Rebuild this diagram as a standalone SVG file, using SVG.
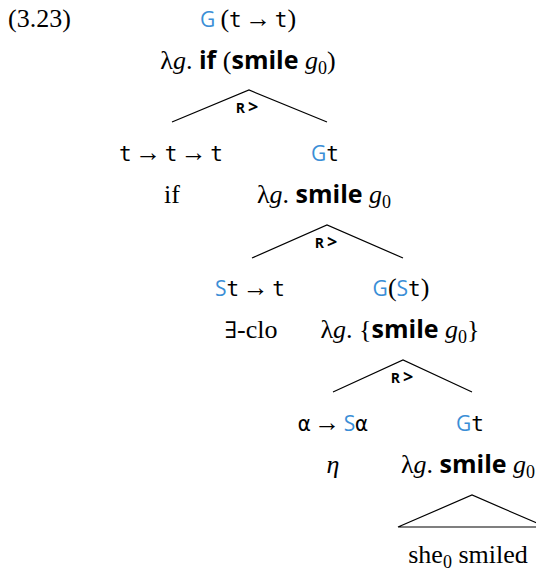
<svg xmlns="http://www.w3.org/2000/svg" width="536" height="571" viewBox="0 0 536 571">
<style>
text{font-family:"Liberation Serif",serif;font-size:26px;fill:#000;text-anchor:middle}
.it{font-style:italic}
.sb{font-family:"Open Sans",sans-serif;font-weight:700;font-size:25px}
.mo{font-family:"DejaVu Sans Mono",monospace;font-size:21px}
.bl{font-family:"Open Sans",sans-serif;font-size:21px;fill:#3a8ed6}
.sub{font-size:18px}
.ex{font-family:"DejaVu Serif",serif;font-size:23px}
.lab{font-family:"Open Sans",sans-serif;font-weight:700;font-size:14px}
.gt{font-size:18px}
.ln{fill:none;stroke:#000;stroke-width:1.2}
</style>
<text x="8" y="27" style="text-anchor:start">(3.23)</text>
<g id="connectors">
<polyline class="ln" points="172,122 249,90 327,122"/>
<text class="lab" x="247" y="113">R<tspan class="gt">&#8201;&gt;</tspan></text>
<polyline class="ln" points="252,258 327,225 403,258"/>
<text class="lab" x="326" y="248">R<tspan class="gt">&#8201;&gt;</tspan></text>
<polyline class="ln" points="333,392 403,360 472,392"/>
<text class="lab" x="402" y="383">R<tspan class="gt">&#8201;&gt;</tspan></text>
<polygon class="ln" points="398,527 472,495 546,527"/>
</g>
<g id="root">
<text x="248" y="27"><tspan class="bl">G</tspan><tspan>&#8201;(</tspan><tspan class="mo">t</tspan><tspan dx="3.5">→</tspan><tspan class="mo" dx="3.5">t</tspan><tspan>)</tspan></text>
<text x="248" y="69"><tspan>λ</tspan><tspan class="it">g</tspan><tspan>. </tspan><tspan class="sb">if</tspan><tspan> (</tspan><tspan class="sb">smile</tspan><tspan> </tspan><tspan class="it">g</tspan><tspan class="sub" dy="5">0</tspan><tspan dy="-5">)</tspan></text>
</g>
<g id="if">
<text x="171" y="161"><tspan class="mo">t</tspan><tspan dx="3.5">→</tspan><tspan class="mo" dx="3.5">t</tspan><tspan dx="3.5">→</tspan><tspan class="mo" dx="3.5">t</tspan></text>
<text x="172" y="203">if</text>
</g>
<g id="G-smile">
<text x="325" y="161"><tspan class="bl">G</tspan><tspan class="mo">t</tspan></text>
<text x="324" y="203"><tspan>λ</tspan><tspan class="it">g</tspan><tspan>. </tspan><tspan class="sb">smile</tspan><tspan> </tspan><tspan class="it">g</tspan><tspan class="sub" dy="5">0</tspan></text>
</g>
<g id="exists-clo">
<text x="250" y="296"><tspan class="bl">S</tspan><tspan class="mo">t</tspan><tspan dx="3.5">→</tspan><tspan class="mo" dx="3.5">t</tspan></text>
<text x="251" y="338"><tspan class="ex">∃</tspan><tspan>-clo</tspan></text>
</g>
<g id="G-S-smile">
<text x="401" y="296"><tspan class="bl">G</tspan><tspan>(</tspan><tspan class="bl">S</tspan><tspan class="mo">t</tspan><tspan>)</tspan></text>
<text x="400" y="338"><tspan>λ</tspan><tspan class="it">g</tspan><tspan>. {</tspan><tspan class="sb">smile</tspan><tspan> </tspan><tspan class="it">g</tspan><tspan class="sub" dy="5">0</tspan><tspan dy="-5">}</tspan></text>
</g>
<g id="eta">
<text x="333" y="431"><tspan class="mo">α</tspan><tspan dx="3.5">→</tspan><tspan class="bl" dx="3.5">S</tspan><tspan class="mo">α</tspan></text>
<text x="333" y="473" class="it">η</text>
</g>
<g id="G-smile-2">
<text x="470" y="431"><tspan class="bl">G</tspan><tspan class="mo">t</tspan></text>
<text x="468" y="473"><tspan>λ</tspan><tspan class="it">g</tspan><tspan>. </tspan><tspan class="sb">smile</tspan><tspan> </tspan><tspan class="it">g</tspan><tspan class="sub" dy="5">0</tspan></text>
</g>
<g id="she-smiled">
<text x="468" y="563"><tspan>she</tspan><tspan class="sub" dy="5">0</tspan><tspan dy="-5"> smiled</tspan></text>
</g>
</svg>
